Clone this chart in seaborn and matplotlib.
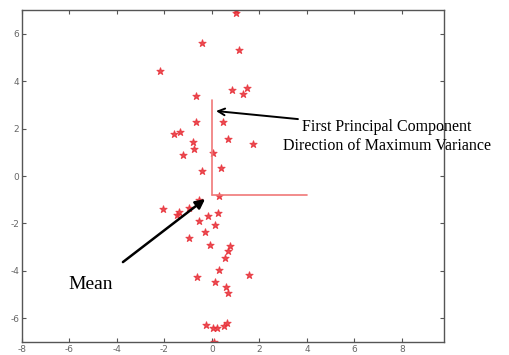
import matplotlib
matplotlib.use("Agg")
import matplotlib.pyplot as plt
import seaborn as sns
import pandas as pd

x_vals = [1.0, 1.0, -0.42, 1.14, -2.19, 0.84, 1.47, 1.3, -0.66, -0.68,
          0.46, -1.6, -1.34, -0.8, -0.74, 0.66, 1.74, -1.2, 0.04, -0.42,
          0.38, 0.28, -0.55, -2.06, -1.38, -1.47, -0.98, -0.55, -0.17, 0.25,
          0.13, -0.3, -0.97, -0.07, 0.75, 0.66, 0.55, 0.29, -0.63, 1.57,
          0.13, 0.6, 0.68, -0.27, 0.04, 0.21, 0.5, 0.63, 0.08]
y_vals = [7.0, 6.88, 5.6, 5.32, 4.43, 3.63, 3.7, 3.46, 3.37, 2.28,
          2.29, 1.76, 1.87, 1.42, 1.12, 1.56, 1.35, 0.88, 0.97, 0.2,
          0.32, -0.85, -1.0, -1.39, -1.52, -1.64, -1.35, -1.9, -1.68, -1.57,
          -2.07, -2.36, -2.62, -2.92, -2.95, -3.16, -3.46, -3.97, -4.26, -4.18,
          -4.47, -4.68, -4.94, -6.29, -6.41, -6.41, -6.33, -6.2, -7.0]

mean_pt = (-0.01, -0.8)
pc1_end = (-0.01, 3.2)
pc2_end = (3.99, -0.8)

x_ticks = [-8, -6, -4, -2, 0, 2, 4, 6, 8]
y_ticks = [-6, -4, -2, 0, 2, 4, 6]

label_pc = "First Principal Component\nDirection of Maximum Variance"
label_mean = "Mean"

df = pd.DataFrame({"x": x_vals, "y": y_vals})

sns.set_style("white")
plt.rcParams["axes.unicode_minus"] = False
fig = plt.figure(figsize=(5.1, 3.55), dpi=100)
ax = fig.add_axes([22/510, 1-342/355, (444-22)/510, (342-10)/355])

sns.scatterplot(data=df, x="x", y="y", ax=ax, marker="*", s=28,
                color="#e8323a", edgecolor="#e8323a", linewidth=0.8, alpha=0.85,
                legend=False)

ax.plot([mean_pt[0], pc1_end[0]], [mean_pt[1], pc1_end[1]], color="#f07878", lw=1.2)
ax.plot([mean_pt[0], pc2_end[0]], [mean_pt[1], pc2_end[1]], color="#f07878", lw=1.2)

ax.set_xlim(-8, 9.77)
ax.set_ylim(-7, 7)
ax.set_xticks(x_ticks)
ax.set_yticks(y_ticks)
ax.set_xlabel("")
ax.set_ylabel("")
ax.tick_params(direction="in", length=3, width=0.8, color="#555555",
               labelsize=6.5, labelcolor="#666666", top=True, right=True,
               bottom=True, left=True, pad=2)
for sp in ax.spines.values():
    sp.set_color("#555555")
    sp.set_linewidth(1.0)

serif = ["Liberation Serif", "DejaVu Serif"]
ax.annotate("", xy=(0.17, 2.74), xytext=(3.62, 2.4),
            arrowprops=dict(arrowstyle="->", color="black", lw=1.4, mutation_scale=12,
                            shrinkA=0, shrinkB=0))
ax.text(7.37, 1.65, label_pc, ha="center", va="center", multialignment="center",
        fontsize=11.5, family=serif, linespacing=1.25, color="black")

ax.annotate("", xy=(-0.29, -0.97), xytext=(-3.75, -3.63),
            arrowprops=dict(arrowstyle="-|>", color="black", lw=1.8, mutation_scale=14,
                            shrinkA=0, shrinkB=0))
ax.text(-6.06, -4.56, label_mean, ha="left", va="center", fontsize=14,
        family=serif, color="black")

fig.savefig("out.png", dpi=100)
